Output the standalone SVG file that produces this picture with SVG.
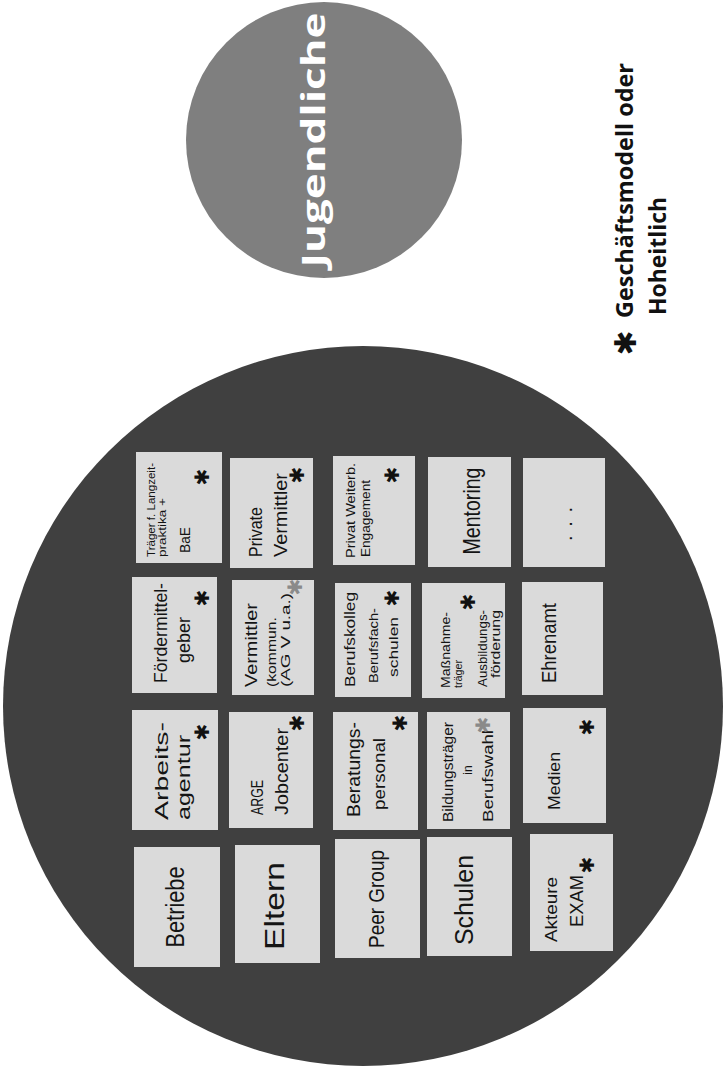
<svg xmlns="http://www.w3.org/2000/svg" width="727" height="1070" viewBox="0 0 727 1070">
<style>
.card{fill:#dadada}
.hw{font-family:"Liberation Sans","DejaVu Sans",sans-serif;fill:#141414}
.ast{font-family:"DejaVu Sans",sans-serif;font-size:20px;fill:#111;text-anchor:middle;dominant-baseline:central}
.ast.grey{fill:#8a8a8a}
.c{text-anchor:middle}
</style>
<rect x="0" y="0" width="727" height="1070" fill="#ffffff"/>
<g id="jugendliche">
<circle cx="324" cy="140" r="138" fill="#7f7f7f"/>
<text transform="translate(325 140) rotate(-90)" x="0" y="0" text-anchor="middle" font-family="'Open Sans','DejaVu Sans',sans-serif" font-weight="bold" font-size="33" fill="#ffffff" textLength="255" lengthAdjust="spacingAndGlyphs">Jugendliche</text>
</g>
<g id="legend">
<text class="ast" transform="translate(625 343) rotate(-90)" x="0" y="0" style="font-size:30px">✱</text>
<text transform="translate(633 318) rotate(-90)" x="0" y="0" font-family="'Open Sans','DejaVu Sans',sans-serif" font-weight="bold" font-size="23.5" fill="#111" textLength="255" lengthAdjust="spacingAndGlyphs">Geschäftsmodell oder</text>
<text transform="translate(666 315) rotate(-90)" x="0" y="0" font-family="'Open Sans','DejaVu Sans',sans-serif" font-weight="bold" font-size="23.5" fill="#111" textLength="118" lengthAdjust="spacingAndGlyphs">Hoheitlich</text>
</g>
<g id="netzwerk">
<circle cx="363" cy="706" r="360" fill="#404040"/>
</g>
<g id="connectors"></g>

<g id="card-traeger">
<rect class="card" x="136" y="452" width="86" height="111"/>
<text class="hw" transform="translate(155 557) rotate(-90)" font-size="11" textLength="94" lengthAdjust="spacingAndGlyphs">Träger f. Langzeit-</text>
<text class="hw" transform="translate(166 557) rotate(-90)" font-size="11" textLength="59" lengthAdjust="spacingAndGlyphs">praktika +</text>
<text class="hw" transform="translate(190 553) rotate(-90)" font-size="15" textLength="26" lengthAdjust="spacingAndGlyphs">BaE</text>
<text class="ast" transform="translate(202 477) rotate(-90)">✱</text>
</g>
<g id="card-private-vermittler">
<rect class="card" x="230" y="458" width="83" height="110"/>
<text class="hw" transform="translate(262 557) rotate(-90)" font-size="19" textLength="50" lengthAdjust="spacingAndGlyphs">Private</text>
<text class="hw" transform="translate(287 557) rotate(-90)" font-size="18" textLength="84" lengthAdjust="spacingAndGlyphs">Vermittler</text>
<text class="ast" transform="translate(297 475) rotate(-90)">✱</text>
</g>
<g id="card-privat-engagement">
<rect class="card" x="333" y="456" width="82" height="109"/>
<text class="hw" transform="translate(355 558) rotate(-90)" font-size="12" textLength="95" lengthAdjust="spacingAndGlyphs">Privat Weiterb.</text>
<text class="hw" transform="translate(370 557) rotate(-90)" font-size="12" textLength="77" lengthAdjust="spacingAndGlyphs">Engagement</text>
<text class="ast" transform="translate(392 475) rotate(-90)">✱</text>
</g>
<g id="card-mentoring">
<rect class="card" x="428" y="457" width="83" height="110"/>
<text class="hw c" transform="translate(480 511) rotate(-90)" font-size="24" textLength="87" lengthAdjust="spacingAndGlyphs">Mentoring</text>
</g>
<g id="card-dots">
<rect class="card" x="523" y="458" width="82" height="109"/>
<text class="hw c" transform="translate(572 524) rotate(-90)" font-size="20" textLength="34" lengthAdjust="spacing">...</text>
</g>

<g id="card-foerdermittelgeber">
<rect class="card" x="132" y="577" width="85" height="116"/>
<text class="hw" transform="translate(167 683) rotate(-90)" font-size="18" textLength="100" lengthAdjust="spacingAndGlyphs">Fördermittel-</text>
<text class="hw" transform="translate(190 663) rotate(-90)" font-size="18" textLength="46" lengthAdjust="spacingAndGlyphs">geber</text>
<text class="ast" transform="translate(202 598) rotate(-90)">✱</text>
</g>
<g id="card-vermittler-kommunal">
<rect class="card" x="232" y="580" width="82" height="115"/>
<text class="hw" transform="translate(257 687) rotate(-90)" font-size="16" textLength="84" lengthAdjust="spacingAndGlyphs">Vermittler</text>
<text class="hw" transform="translate(276 687) rotate(-90)" font-size="13" textLength="70" lengthAdjust="spacingAndGlyphs">(kommun.</text>
<text class="hw" transform="translate(290 687) rotate(-90)" font-size="13" textLength="94" lengthAdjust="spacingAndGlyphs">(AG V u.a.)</text>
<text class="ast grey" transform="translate(295 587) rotate(-90)">✱</text>
</g>
<g id="card-berufskolleg">
<rect class="card" x="335" y="583" width="76" height="114"/>
<text class="hw" transform="translate(355 687) rotate(-90)" font-size="14" textLength="95" lengthAdjust="spacingAndGlyphs">Berufskolleg</text>
<text class="hw" transform="translate(378 683) rotate(-90)" font-size="13" textLength="75" lengthAdjust="spacingAndGlyphs">Berufsfach-</text>
<text class="hw" transform="translate(398 677) rotate(-90)" font-size="13" textLength="60" lengthAdjust="spacingAndGlyphs">schulen</text>
<text class="ast" transform="translate(392 598) rotate(-90)">✱</text>
</g>
<g id="card-massnahmetraeger">
<rect class="card" x="422" y="583" width="83" height="115"/>
<text class="hw" transform="translate(450 688) rotate(-90)" font-size="13" textLength="76" lengthAdjust="spacingAndGlyphs">Maßnahme-</text>
<text class="hw" transform="translate(462 688) rotate(-90)" font-size="11" textLength="28" lengthAdjust="spacingAndGlyphs">träger</text>
<text class="hw" transform="translate(487 687) rotate(-90)" font-size="13" textLength="77" lengthAdjust="spacingAndGlyphs">Ausbildungs-</text>
<text class="hw" transform="translate(500 678) rotate(-90)" font-size="12" textLength="68" lengthAdjust="spacingAndGlyphs">förderung</text>
<text class="ast" transform="translate(468 602) rotate(-90)">✱</text>
</g>
<g id="card-ehrenamt">
<rect class="card" x="522" y="582" width="81" height="113"/>
<text class="hw c" transform="translate(556 643) rotate(-90)" font-size="20" textLength="80" lengthAdjust="spacingAndGlyphs">Ehrenamt</text>
</g>

<g id="card-arbeitsagentur">
<rect class="card" x="132" y="710" width="86" height="120"/>
<text class="hw" transform="translate(168 820) rotate(-90)" font-size="18" textLength="98" lengthAdjust="spacingAndGlyphs">Arbeits-</text>
<text class="hw" transform="translate(190 820) rotate(-90)" font-size="18" textLength="85" lengthAdjust="spacingAndGlyphs">agentur</text>
<text class="ast" transform="translate(202 732) rotate(-90)">✱</text>
</g>
<g id="card-arge">
<rect class="card" x="229" y="712" width="84" height="116"/>
<text class="hw" transform="translate(263 815) rotate(-90)" font-size="16" textLength="35" lengthAdjust="spacingAndGlyphs">ARGE</text>
<text class="hw" transform="translate(288 815) rotate(-90)" font-size="18" textLength="87" lengthAdjust="spacingAndGlyphs">Jobcenter</text>
<text class="ast" transform="translate(297 723) rotate(-90)">✱</text>
</g>
<g id="card-beratungspersonal">
<rect class="card" x="333" y="712" width="85" height="118"/>
<text class="hw" transform="translate(360 817) rotate(-90)" font-size="18" textLength="95" lengthAdjust="spacingAndGlyphs">Beratungs-</text>
<text class="hw" transform="translate(385 810) rotate(-90)" font-size="16" textLength="72" lengthAdjust="spacingAndGlyphs">personal</text>
<text class="ast" transform="translate(400 723) rotate(-90)">✱</text>
</g>
<g id="card-bildungstraeger">
<rect class="card" x="427" y="712" width="83" height="117"/>
<text class="hw" transform="translate(453 822) rotate(-90)" font-size="15" textLength="100" lengthAdjust="spacingAndGlyphs">Bildungsträger</text>
<text class="hw c" transform="translate(472 770) rotate(-90)" font-size="12">in</text>
<text class="hw" transform="translate(493 822) rotate(-90)" font-size="15" textLength="92" lengthAdjust="spacingAndGlyphs">Berufswahl</text>
<text class="ast grey" transform="translate(483 725) rotate(-90)">✱</text>
</g>
<g id="card-medien">
<rect class="card" x="523" y="708" width="83" height="115"/>
<text class="hw" transform="translate(560 810) rotate(-90)" font-size="16" textLength="58" lengthAdjust="spacingAndGlyphs">Medien</text>
<text class="ast" transform="translate(587 727) rotate(-90)">✱</text>
</g>

<g id="card-betriebe">
<rect class="card" x="134" y="847" width="86" height="120"/>
<text class="hw c" transform="translate(184 907) rotate(-90)" font-size="26" textLength="81" lengthAdjust="spacingAndGlyphs">Betriebe</text>
</g>
<g id="card-eltern">
<rect class="card" x="235" y="845" width="85" height="118"/>
<text class="hw c" transform="translate(284 906) rotate(-90)" font-size="28" textLength="88" lengthAdjust="spacingAndGlyphs">Eltern</text>
</g>
<g id="card-peer-group">
<rect class="card" x="335" y="839" width="85" height="119"/>
<text class="hw c" transform="translate(384 899) rotate(-90)" font-size="22" textLength="98" lengthAdjust="spacingAndGlyphs">Peer Group</text>
</g>
<g id="card-schulen">
<rect class="card" x="427" y="837" width="85" height="119"/>
<text class="hw c" transform="translate(473 900) rotate(-90)" font-size="26" textLength="90" lengthAdjust="spacingAndGlyphs">Schulen</text>
</g>
<g id="card-akteure-exam">
<rect class="card" x="530" y="834" width="83" height="117"/>
<text class="hw" transform="translate(557 942) rotate(-90)" font-size="16" textLength="65" lengthAdjust="spacingAndGlyphs">Akteure</text>
<text class="hw" transform="translate(583 927) rotate(-90)" font-size="18" textLength="52" lengthAdjust="spacingAndGlyphs">EXAM</text>
<text class="ast" transform="translate(587 865) rotate(-90)">✱</text>
</g>
</svg>
